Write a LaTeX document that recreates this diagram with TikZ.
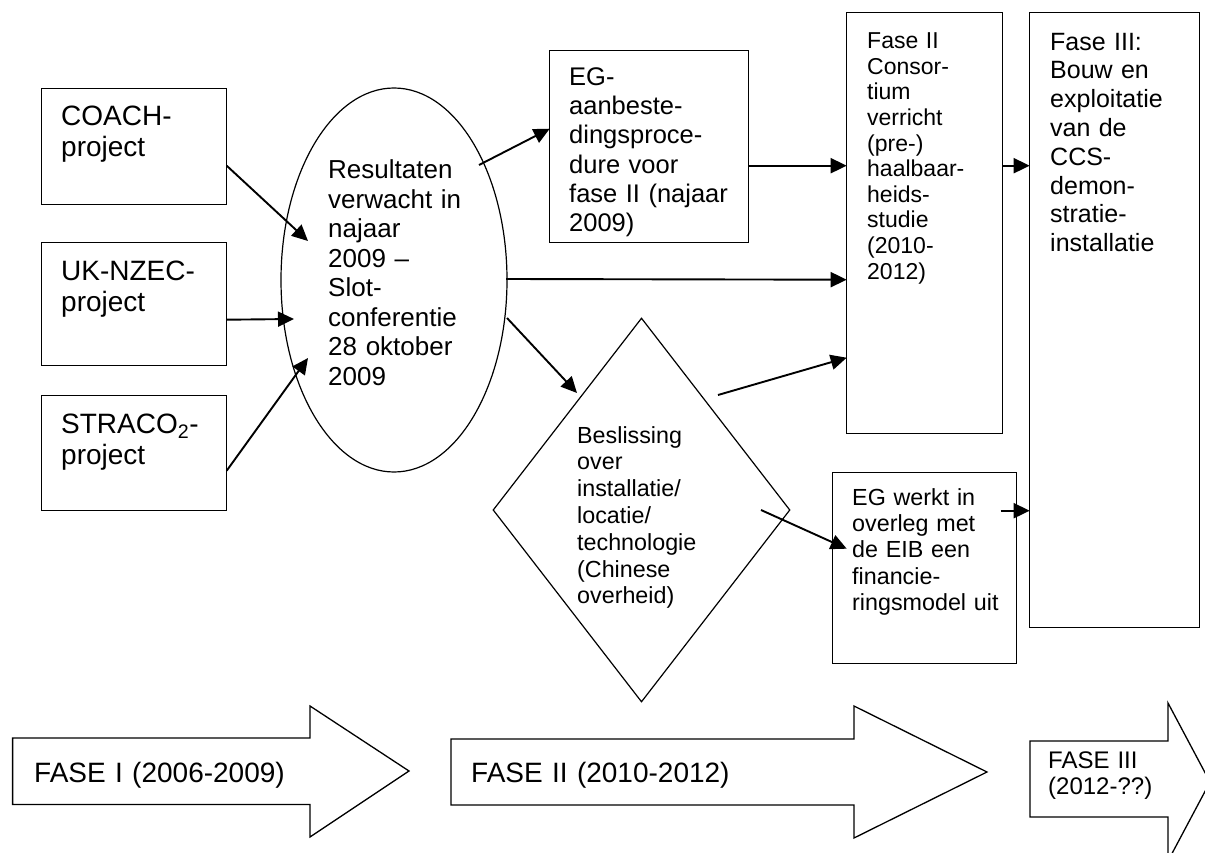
\documentclass[tikz,border=0pt]{standalone}
\usepackage{fontspec}
\setmainfont{Liberation Sans}
\usetikzlibrary{arrows.meta,shapes.geometric,calc}
\begin{document}
\begin{tikzpicture}[x=1pt,y=-1pt,
  box/.style={draw,line width=1.4pt,rectangle,inner sep=0pt,anchor=north west},
  txt/.style={anchor=north west,inner sep=0pt,align=left,text width=400pt},
  arr/.style={line width=1.9pt,-{Triangle[length=16pt,width=15pt]}},
  blockarrow/.style={draw,line width=1.3pt,line join=miter}]
\useasboundingbox (0,0) rectangle (1205,853);
\clip (0,0) rectangle (1205,853);

% boxes
\node[box,minimum width=185pt,minimum height=116pt] (coach) at (41,88) {};
\node[box,minimum width=185pt,minimum height=123pt] (uk) at (41,242) {};
\node[box,minimum width=185pt,minimum height=115pt] (straco) at (41,395) {};
\node[draw,ellipse,line width=1.2pt,inner sep=0pt,minimum width=226pt,minimum height=384pt] (ell) at (394,280) {};
\node[box,minimum width=199pt,minimum height=192pt] (egproc) at (549,50) {};
\node[box,minimum width=156pt,minimum height=421pt] (fase2) at (846,12) {};
\node[box,minimum width=170pt,minimum height=615pt] (fase3) at (1029,12) {};
\node[box,minimum width=184pt,minimum height=191pt] (egwerkt) at (832,472) {};
\node[draw,diamond,line width=1.2pt,inner sep=0pt,minimum width=297pt,minimum height=384pt] (dia) at (641.5,510) {};

% texts
\node[txt,font=\fontsize{28}{31.7}\selectfont] (coacht) at (61,102.8) {\strut COACH-\\project};
\node[txt,font=\fontsize{28}{31.7}\selectfont] (ukt) at (61,257.8) {\strut UK-NZEC-\\project};
\node[txt,font=\fontsize{28}{31.7}\selectfont] (stracot) at (61,410.8) {\strut STRACO\textsubscript{2}-\\project};
\node[txt,font=\fontsize{26}{29.5}\selectfont] (ellt) at (328,157.9) {\strut Resultaten\\verwacht in\\najaar\\2009 --\\Slot-\\conferentie\\28 oktober\\2009};
\node[txt,font=\fontsize{25.5}{29.3}\selectfont] (egproct) at (569,64.5) {\strut EG-\\aanbeste-\\dingsproce-\\dure voor\\fase II (najaar\\2009)};
\node[txt,font=\fontsize{23}{25.6}\selectfont] (fase2t) at (867,30.6) {\strut Fase II\\Consor-\\tium\\verricht\\(pre-)\\haalbaar-\\heids-\\studie\\(2010-\\2012)};
\node[txt,font=\fontsize{25}{28.8}\selectfont] (fase3t) at (1050,29.8) {\strut Fase III:\\Bouw en\\exploitatie\\van de\\CCS-\\demon-\\stratie-\\installatie};
\node[txt,font=\fontsize{23.3}{26.8}\selectfont] (diat) at (577,424.2) {\strut Beslissing\\over\\installatie/\\locatie/\\technologie\\(Chinese\\overheid)};
\node[txt,font=\fontsize{23.3}{26.3}\selectfont] (egwerktt) at (852,486.6) {\strut EG werkt in\\overleg met\\de EIB een\\financie-\\ringsmodel uit};

% connectors
\draw[arr] ($(coach.center)+(92.5,19)$) -- ($(ell.center)+(-86,-39)$);
\draw[arr] ($(uk.center)+(92.5,15.5)$) -- ($(ell.center)+(-100,39)$);
\draw[arr] ($(straco.center)+(92.5,17.5)$) -- ($(ell.center)+(-86,78)$);
\draw[arr] ($(ell.center)+(85,-115)$) -- ($(egproc.center)+(-99.5,-18)$);
\draw[arr] ($(egproc.center)+(99.5,19)$) -- ($(fase2.center)+(-78,-57.5)$);
\draw[arr] ($(ell.center)+(112,-1)$) -- ($(fase2.center)+(-78,56.5)$);
\draw[arr] ($(ell.center)+(113,38)$) -- ($(dia.center)+(-64.5,-117)$);
\draw[arr] ($(dia.center)+(76.5,-115)$) -- ($(fase2.center)+(-78,134.5)$);
\draw[arr] ($(dia.center)+(119.5,0)$) -- ($(egwerkt.center)+(-78,-19.5)$);
\draw[arr] ($(fase2.center)+(78,-57.5)$) -- ($(fase3.center)+(-85,-154.5)$);
\draw[arr] ($(egwerkt.center)+(76,-57.5)$) -- ($(fase3.center)+(-85,190.5)$);

% phase arrows
\draw[blockarrow] (12.6,738) -- (310,738) -- (310,706) -- (409,771) -- (310,837) -- (310,804.5) -- (12.6,804.5) -- cycle;
\draw[blockarrow] (451,739) -- (854,739) -- (854,706) -- (987,772) -- (854,838) -- (854,805) -- (451,805) -- cycle;
\draw[blockarrow] (1030,741) -- (1168,741) -- (1168,703) -- (1210,782) -- (1168,861) -- (1168,817) -- (1030,817) -- cycle;
\node[txt,font=\fontsize{28}{32}\selectfont] (f1) at (34,759.6) {\strut FASE I (2006-2009)};
\node[txt,font=\fontsize{28}{32}\selectfont] (f2) at (471,759.6) {\strut FASE II (2010-2012)};
\node[txt,font=\fontsize{24}{25.5}\selectfont] (f3) at (1048,750.5) {\strut FASE III\\(2012-??)};
\end{tikzpicture}
\end{document}
